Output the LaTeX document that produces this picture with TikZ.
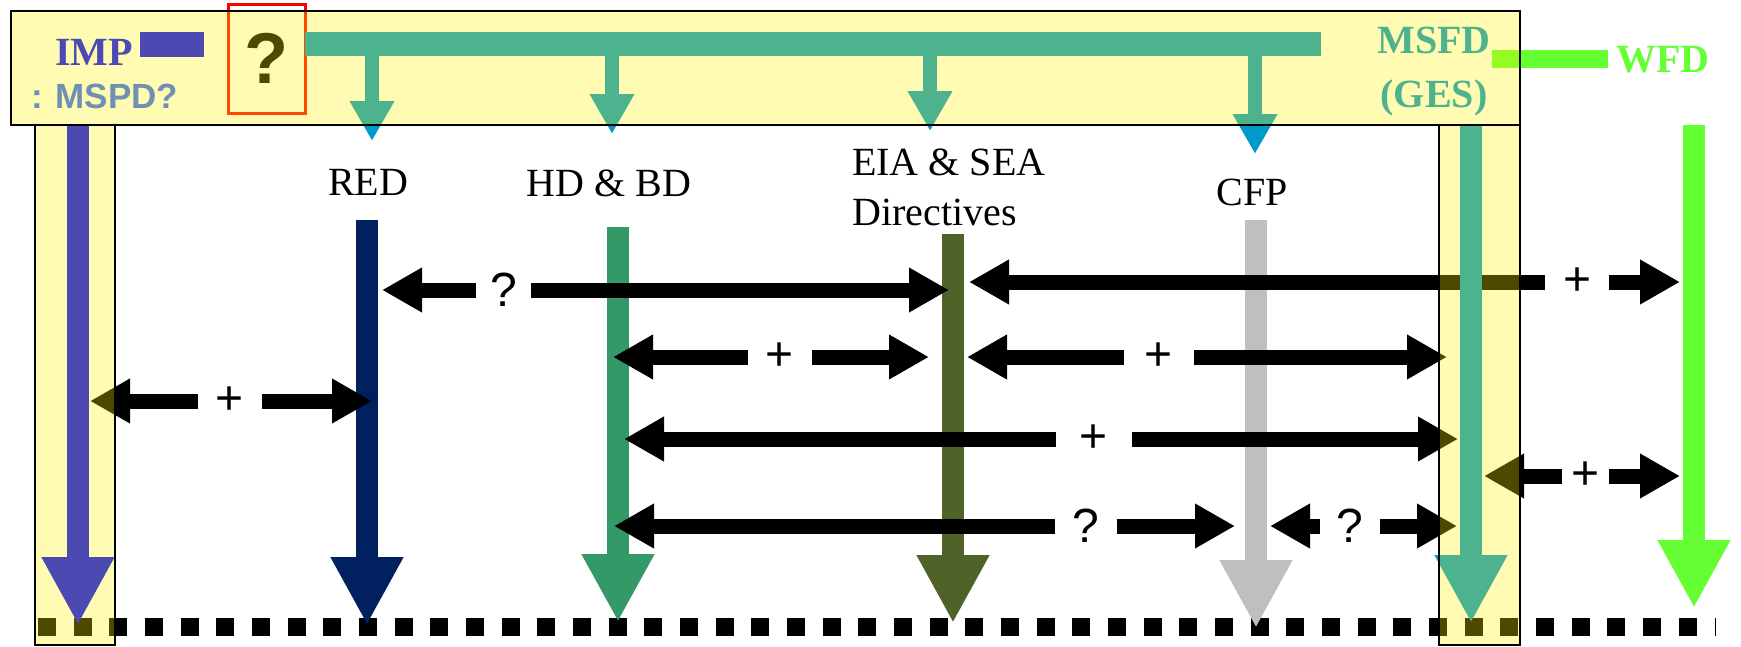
\documentclass[tikz,border=0pt]{standalone}
\usepackage{fontspec}
\setmainfont{Liberation Serif}
\setsansfont{Liberation Sans}
\usetikzlibrary{arrows.meta}
\definecolor{imp}{HTML}{0000FF}
\definecolor{mspd}{HTML}{3366FF}
\definecolor{ges}{HTML}{0099CC}
\definecolor{wfd}{HTML}{66FF33}
\definecolor{navy}{HTML}{002060}
\definecolor{habitat}{HTML}{339966}
\definecolor{eiaolive}{HTML}{4F6228}
\definecolor{cfpgrey}{HTML}{BFBFBF}
\begin{document}
\begin{tikzpicture}%
	[x=1pt, y=-1pt,
	link/.style={line width=15pt, -{Triangle[length=40pt 0 0, width=42pt 0 0]}},
	flow/.style={line width=22pt, -{Triangle[length=68pt 0 0, width=68pt 0 0]}},
	drop/.style={ges, line width=14pt, -{Triangle[length=40pt 0 0, width=42pt 0 0]}},
	panel/.style={fill=yellow, fill opacity=0.3, draw=black, line width=#1},
	sign/.style={font=\sffamily\fontsize{48}{48}\selectfont, inner xsep=18pt, inner ysep=0pt},
	dirname/.style={font=\fontsize{40}{50}\selectfont, inner sep=0pt, anchor=base},
	head/.style={font=\bfseries\fontsize{40}{50}\selectfont, inner sep=0pt, anchor=base},
	dots/.style={line width=18pt, dash pattern=on 18pt off 17.67pt}]
\useasboundingbox (0,0) rectangle (1741,646);
%
%% Coordinates of the arrow ends:
%%
\coordinate (imptop) at (78,125);   \coordinate (impend) at (78,625);
\coordinate (redtop) at (367,220);  \coordinate (redend) at (367,625);
\coordinate (hdtop) at (618,227);   \coordinate (hdend) at (618,622);
\coordinate (eiatop) at (953,234);  \coordinate (eiaend) at (953,623);
\coordinate (cfptop) at (1256,220); \coordinate (cfpend) at (1256,628);
\coordinate (msfdtop) at (1471,125); \coordinate (msfdend) at (1471,623);
\coordinate (wfdtop) at (1694,125); \coordinate (wfdend) at (1694,608);
\coordinate (dotl) at (38,627);     \coordinate (dotr) at (1716,627);
%%
%%
%% Drawing the bottom line
%%
\draw[dots] (dotl) -- (dotr);
%%
%%
%% Drawing the top row
%%
\node[head, imp, anchor=base west] (imp) at (55,65) {IMP};
\fill[imp] (140,32) rectangle (204,57);
\node[font=\sffamily\bfseries\fontsize{35}{35}\selectfont, mspd, anchor=base west, inner sep=0pt] (mspd) at (31,108) {: MSPD?};
\node[draw=red, line width=3pt, minimum width=77pt, minimum height=109pt, inner sep=0pt,
	font=\sffamily\bfseries\fontsize{72}{72}\selectfont] (qbox) at (266.5,58.5) {?};
\fill[ges] (305,32) rectangle (1321,56);
\draw[drop] (372,44) -- (372,141);
\draw[drop] (612,44) -- (612,134);
\draw[drop] (930,44) -- (930,131);
\draw[drop] (1255,44) -- (1255,154);
\node[head, ges] (msfd) at (1434,53) {MSFD};
\node[head, ges] (msfdb) at (1434,107) {(GES)};
\fill[wfd] (1492,50) rectangle (1608,68);
\node[head, wfd, anchor=base west] (wfd) at (1616,72) {WFD};
%%
%%
%% Drawing the directive names
%%
\node[dirname] (nred) at (368,195) {RED};
\node[dirname] (hdbd) at (609,196) {HD \& BD};
\node[dirname, anchor=base west] (eia) at (852,175) {EIA \& SEA};
\node[dirname, anchor=base west] (eiab) at (852,225) {Directives};
\node[dirname] (cfp) at (1252,205) {CFP};
%%
%%
%% Drawing the vertical arrows
%%
\draw[flow, imp] (imptop) -- (impend);
\draw[flow, navy] (redtop) -- (redend);
\draw[flow, habitat] (hdtop) -- (hdend);
\draw[flow, eiaolive] (eiatop) -- (eiaend);
\draw[flow, cfpgrey] (cfptop) -- (cfpend);
\draw[flow, wfd] (wfdtop) -- (wfdend);
%%
%%
%% Drawing the links
%%
\coordinate (l1) at (382,290);  \coordinate (r1) at (949,290);
\coordinate (l2) at (969,282);  \coordinate (r2) at (1680,282);
\coordinate (l3) at (613,357);  \coordinate (r3) at (929,357);
\coordinate (l4) at (967,357);  \coordinate (r4) at (1447,357);
\coordinate (l5) at (90,401);   \coordinate (r5) at (372,401);
\coordinate (l6) at (624,439);  \coordinate (r6) at (1458,439);
\coordinate (l7) at (1484,476); \coordinate (r7) at (1680,476);
\coordinate (l8) at (614,526);  \coordinate (r8) at (1235,526);
\coordinate (l9) at (1270,526); \coordinate (r9) at (1457,526);
\node[sign, inner xsep=14pt] (p1) at (503.5,290) {?};
\node[sign] (p2) at (1577,282) {+};
\node[sign] (p3) at (780,357) {+};
\node[sign, inner xsep=21pt] (p4) at (1159,357) {+};
\node[sign] (p5) at (230,401) {+};
\node[sign, inner xsep=24pt] (p6) at (1094,439) {+};
\node[sign, inner xsep=9.5pt] (p7) at (1585.5,476) {+};
\node[sign, inner xsep=17pt] (p8) at (1086,526) {?};
\node[sign, inner xsep=16pt] (p9) at (1350,526) {?};
\draw[link] (p1.west) -- (l1); \draw[link] (p1.east) -- (r1);
\draw[link] (p2.west) -- (l2); \draw[link] (p2.east) -- (r2);
\draw[link] (p3.west) -- (l3); \draw[link] (p3.east) -- (r3);
\draw[link] (p4.west) -- (l4); \draw[link] (p4.east) -- (r4);
\draw[link] (p5.west) -- (l5); \draw[link] (p5.east) -- (r5);
\draw[link] (p6.west) -- (l6); \draw[link] (p6.east) -- (r6);
\draw[link] (p7.west) -- (l7); \draw[link] (p7.east) -- (r7);
\draw[link] (p8.west) -- (l8); \draw[link] (p8.east) -- (r8);
\draw[link] (p9.west) -- (l9); \draw[link] (p9.east) -- (r9);
\draw[flow, ges] (msfdtop) -- (msfdend);
%%
%%
%% Drawing the panels
%%
\draw[panel=2pt] (11,11) rectangle (1520,125);
\draw[panel=1.5pt] (35,125) rectangle (115,645);
\draw[panel=1.5pt] (1439,125) rectangle (1520,645);
%%
%%
\end{tikzpicture}
\end{document}
